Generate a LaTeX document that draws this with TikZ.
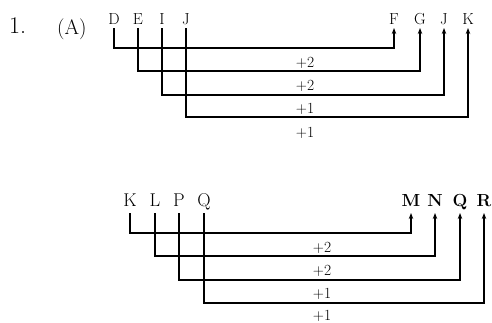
\documentclass[tikz,border=0pt]{standalone}
\usetikzlibrary{arrows.meta}
\begin{document}
\begin{tikzpicture}[x=1pt,y=-1pt,
  lt/.style={font=\fontsize{16}{16}\selectfont, inner sep=0pt, text depth=0pt, outer xsep=0pt, outer ysep=4pt, anchor=south},
  lb/.style={font=\fontsize{18.5}{18.5}\selectfont, inner sep=0pt, text depth=0pt, outer xsep=0pt, outer ysep=7pt, anchor=south},
  lbb/.style={lb, font=\fontsize{17.5}{17.5}\selectfont\bfseries},
  num/.style={font=\fontsize{15.5}{15.5}\selectfont, inner sep=0pt, text height=10pt, text depth=0pt},
  head/.style={inner sep=0pt, anchor=base west},
  conn/.style={line width=1.7pt, -{Stealth[length=6pt,width=4.5pt]}},
]
\useasboundingbox (0,0) rectangle (492,322);
% heading
\node[head, font=\fontsize{24}{24}\selectfont] (num1) at (9,33) {1.};
\node[head, font=\fontsize{21}{21}\selectfont] (optA) at (57,34) {(A)};
% top group
\node[lt] (D)  at (114,28) {D};
\node[lt] (E)  at (138,28) {E};
\node[lt] (I)  at (162,28) {I};
\node[lt] (J1) at (186,28) {J};
\node[lt] (F)  at (394,28) {F};
\node[lt] (G)  at (420,28) {G};
\node[lt] (J2) at (444,28) {J};
\node[lt] (K1) at (468,28) {K};
\coordinate (h1) at (0,48);
\coordinate (h2) at (0,71);
\coordinate (h3) at (0,95);
\coordinate (h4) at (0,117);
\draw[conn] (D.south) -- (D.south |- h1) -| (F.south);
\draw[conn] (E.south) -- (E.south |- h2) -| (G.south);
\draw[conn] (I.south) -- (I.south |- h3) -| (J2.south);
\draw[conn] (J1.south) -- (J1.south |- h4) -| (K1.south);
\node[num] (t1) at (305,62.5) {+2};
\node[num] (t2) at (305,85) {+2};
\node[num] (t3) at (305,108) {+1};
\node[num] (t4) at (305,132) {+1};
% bottom group
\node[lb] (K2) at (130,213) {K};
\node[lb] (L)  at (155,213) {L};
\node[lb] (P)  at (179,213) {P};
\node[lb] (Q1) at (204,213) {Q};
\node[lbb] (M)  at (411,213) {M};
\node[lbb] (N)  at (435,213) {N};
\node[lbb] (Q2) at (460,213) {Q};
\node[lbb] (R)  at (484,213) {R};
\coordinate (b1) at (0,233);
\coordinate (b2) at (0,256);
\coordinate (b3) at (0,280);
\coordinate (b4) at (0,303);
\draw[conn] (K2.south) -- (K2.south |- b1) -| (M.south);
\draw[conn] (L.south) -- (L.south |- b2) -| (N.south);
\draw[conn] (P.south) -- (P.south |- b3) -| (Q2.south);
\draw[conn] (Q1.south) -- (Q1.south |- b4) -| (R.south);
\node[num] (u1) at (322,247) {+2};
\node[num] (u2) at (322,270) {+2};
\node[num] (u3) at (322,293) {+1};
\node[num] (u4) at (322,315) {+1};
\end{tikzpicture}
\end{document}
